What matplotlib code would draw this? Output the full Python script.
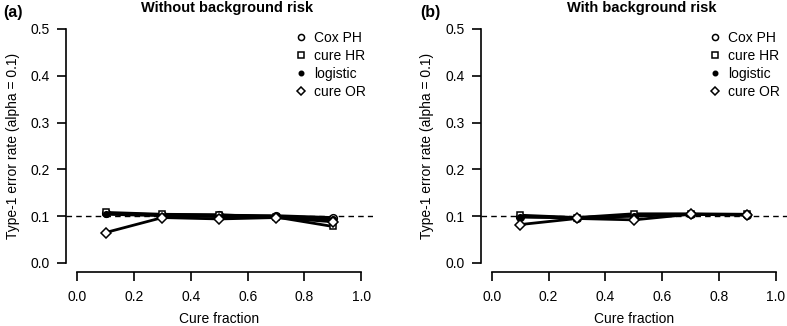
import matplotlib
matplotlib.use("Agg")
import matplotlib.pyplot as plt
from matplotlib.lines import Line2D

plt.rcParams['font.family'] = ['Liberation Sans', 'DejaVu Sans']

cure_fraction = [0.1, 0.3, 0.5, 0.7, 0.9]

# Panel (a): without background risk
a_cox_ph   = [0.106, 0.103, 0.102, 0.101, 0.097]
a_cure_hr  = [0.108, 0.104, 0.103, 0.098, 0.078]
a_logistic = [0.104, 0.101, 0.099, 0.099, 0.093]
a_cure_or  = [0.065, 0.097, 0.094, 0.097, 0.088]

# Panel (b): with background risk
b_cox_ph   = [0.099, 0.097, 0.101, 0.104, 0.103]
b_cure_hr  = [0.102, 0.097, 0.105, 0.105, 0.104]
b_logistic = [0.098, 0.096, 0.100, 0.104, 0.103]
b_cure_or  = [0.082, 0.095, 0.092, 0.104, 0.102]

series_labels = ["Cox PH", "cure HR", "logistic", "cure OR"]
panel_titles = ["Without background risk", "With background risk"]
panel_tags = ["(a)", "(b)"]
x_ticks = [0.0, 0.2, 0.4, 0.6, 0.8, 1.0]
y_ticks = [0.0, 0.1, 0.2, 0.3, 0.4, 0.5]

styles = [
    dict(marker='o', markersize=5.5, markerfacecolor='white'),
    dict(marker='s', markersize=5, markerfacecolor='white'),
    dict(marker='o', markersize=4, markerfacecolor='black'),
    dict(marker='D', markersize=5.5, markerfacecolor='white'),
]

W, H = 787, 326
fig = plt.figure(figsize=(W / 100, H / 100), dpi=100)

panels = [
    (66.0, [a_cox_ph, a_cure_hr, a_logistic, a_cure_or], -0.2055),
    (480.5, [b_cox_ph, b_cure_hr, b_logistic, b_cure_or], -0.197),
]

for i, (left_px, data, tag_x) in enumerate(panels):
    right_px = left_px + 306.5
    top_px, bottom_px = 19.6, 272.3
    ax = fig.add_axes([left_px / W, 1 - bottom_px / H,
                       (right_px - left_px) / W, (bottom_px - top_px) / H])
    ax.set_xlim(-0.04, 1.04)
    ax.set_ylim(-0.02, 0.52)
    ax.axhline(0.1, color='black', lw=1.0, ls=(0, (4, 3)), zorder=1)
    for vals, st in zip(data, styles):
        ax.plot(cure_fraction, vals, color='black', lw=2.0,
                markeredgecolor='black', markeredgewidth=1.1, zorder=3, **st)
    for s in ['top', 'right']:
        ax.spines[s].set_visible(False)
    ax.spines['left'].set_bounds(0, 0.5)
    ax.spines['bottom'].set_bounds(0, 1)
    for s in ['left', 'bottom']:
        ax.spines[s].set_linewidth(1.2)
    ax.set_xticks(x_ticks)
    ax.set_yticks(y_ticks)
    ax.set_xticklabels([f"{v:.1f}" for v in x_ticks])
    ax.set_yticklabels([f"{v:.1f}" for v in y_ticks])
    ax.tick_params(axis='both', length=6.5, width=1.2, labelsize=10)
    ax.tick_params(axis='x', pad=6)
    ax.tick_params(axis='y', pad=5)
    ax.set_xlabel("Cure fraction", fontsize=10, labelpad=6)
    ax.set_ylabel("Type-1 error rate (alpha = 0.1)", fontsize=10, labelpad=8)
    ax.text(0.526, 1 + (19.6 - 8) / 252.7, panel_titles[i], transform=ax.transAxes,
            fontsize=10.5, fontweight='bold', ha='center', va='center')
    ax.text(tag_x, 1 + (19.6 - 13) / 252.7, panel_tags[i], transform=ax.transAxes,
            fontsize=11.5, fontweight='bold', ha='left', va='center')

    handles = [Line2D([], [], color='black', linestyle='none',
                      markeredgecolor='black', markeredgewidth=1.1,
                      **{**st, 'markersize': st['markersize'] * 0.8})
               for st in styles]
    ax.legend(handles, series_labels, loc='upper right',
              bbox_to_anchor=(0.978, 0.955), frameon=False, fontsize=10,
              borderaxespad=0, borderpad=0, labelspacing=0.28,
              handlelength=1.0, handletextpad=0.45)

fig.savefig("out.png", dpi=100)
